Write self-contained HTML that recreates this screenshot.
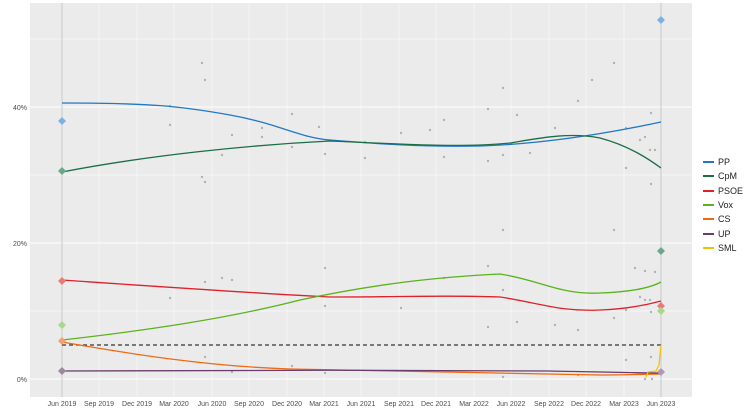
<!DOCTYPE html>
<html><head><meta charset="utf-8"><style>
body{margin:0;background:#fff;}
svg{display:block;font-family:"Liberation Sans",sans-serif;}
</style></head><body>
<svg width="750" height="417" viewBox="0 0 750 417">
<rect x="0" y="0" width="750" height="417" fill="#fff"/>
<rect x="30" y="3" width="662" height="394" fill="#ebebeb"/>
<g stroke="#fff" stroke-width="0.5">
<line x1="30" x2="692" y1="311" y2="311"/><line x1="30" x2="692" y1="175" y2="175"/><line x1="30" x2="692" y1="39" y2="39"/>
</g>
<g stroke="#fff" stroke-width="1">
<line x1="30" x2="692" y1="379" y2="379"/><line x1="30" x2="692" y1="243" y2="243"/><line x1="30" x2="692" y1="107" y2="107"/>
</g>
<g stroke="#f6f6f6" stroke-width="1">
<line x1="99" x2="99" y1="3" y2="397"/><line x1="137" x2="137" y1="3" y2="397"/><line x1="174" x2="174" y1="3" y2="397"/><line x1="212" x2="212" y1="3" y2="397"/><line x1="249" x2="249" y1="3" y2="397"/><line x1="287" x2="287" y1="3" y2="397"/><line x1="324" x2="324" y1="3" y2="397"/><line x1="361" x2="361" y1="3" y2="397"/><line x1="399" x2="399" y1="3" y2="397"/><line x1="436" x2="436" y1="3" y2="397"/><line x1="474" x2="474" y1="3" y2="397"/><line x1="511" x2="511" y1="3" y2="397"/><line x1="549" x2="549" y1="3" y2="397"/><line x1="586" x2="586" y1="3" y2="397"/><line x1="624" x2="624" y1="3" y2="397"/>
</g>
<line x1="62" x2="62" y1="3" y2="397" stroke="#c8c8c8"/>
<line x1="661" x2="661" y1="3" y2="397" stroke="#c8c8c8"/>
<g fill="#999" opacity="0.7">
<circle cx="170" cy="106" r="1.2"/><circle cx="170" cy="125" r="1.2"/><circle cx="202" cy="63" r="1.2"/><circle cx="205" cy="80" r="1.2"/><circle cx="202" cy="177" r="1.2"/><circle cx="205" cy="182" r="1.2"/><circle cx="222" cy="155" r="1.2"/><circle cx="232" cy="135" r="1.2"/><circle cx="262" cy="128" r="1.2"/><circle cx="262" cy="137" r="1.2"/><circle cx="292" cy="114" r="1.2"/><circle cx="292" cy="147" r="1.2"/><circle cx="319" cy="127" r="1.2"/><circle cx="325" cy="154" r="1.2"/><circle cx="365" cy="142" r="1.2"/><circle cx="365" cy="158" r="1.2"/><circle cx="401" cy="133" r="1.2"/><circle cx="430" cy="130" r="1.2"/><circle cx="444" cy="120" r="1.2"/><circle cx="444" cy="157" r="1.2"/><circle cx="488" cy="109" r="1.2"/><circle cx="488" cy="161" r="1.2"/><circle cx="503" cy="88" r="1.2"/><circle cx="503" cy="155" r="1.2"/><circle cx="517" cy="115" r="1.2"/><circle cx="530" cy="153" r="1.2"/><circle cx="555" cy="128" r="1.2"/><circle cx="578" cy="101" r="1.2"/><circle cx="592" cy="80" r="1.2"/><circle cx="614" cy="63" r="1.2"/><circle cx="626" cy="128" r="1.2"/><circle cx="626" cy="168" r="1.2"/><circle cx="651" cy="113" r="1.2"/><circle cx="651" cy="184" r="1.2"/><circle cx="640" cy="140" r="1.2"/><circle cx="645" cy="137" r="1.2"/><circle cx="650" cy="150" r="1.2"/><circle cx="655" cy="150" r="1.2"/><circle cx="503" cy="230" r="1.2"/><circle cx="614" cy="230" r="1.2"/><circle cx="170" cy="298" r="1.2"/><circle cx="205" cy="282" r="1.2"/><circle cx="222" cy="278" r="1.2"/><circle cx="232" cy="280" r="1.2"/><circle cx="325" cy="268" r="1.2"/><circle cx="325" cy="306" r="1.2"/><circle cx="401" cy="308" r="1.2"/><circle cx="444" cy="278" r="1.2"/><circle cx="488" cy="266" r="1.2"/><circle cx="488" cy="327" r="1.2"/><circle cx="503" cy="290" r="1.2"/><circle cx="517" cy="322" r="1.2"/><circle cx="555" cy="325" r="1.2"/><circle cx="578" cy="330" r="1.2"/><circle cx="614" cy="318" r="1.2"/><circle cx="626" cy="310" r="1.2"/><circle cx="651" cy="312" r="1.2"/><circle cx="640" cy="297" r="1.2"/><circle cx="645" cy="300" r="1.2"/><circle cx="650" cy="300" r="1.2"/><circle cx="635" cy="268" r="1.2"/><circle cx="645" cy="271" r="1.2"/><circle cx="655" cy="272" r="1.2"/><circle cx="626" cy="360" r="1.2"/><circle cx="651" cy="357" r="1.2"/><circle cx="205" cy="357" r="1.2"/><circle cx="232" cy="372" r="1.2"/><circle cx="292" cy="366" r="1.2"/><circle cx="325" cy="373" r="1.2"/><circle cx="430" cy="371" r="1.2"/><circle cx="503" cy="377" r="1.2"/><circle cx="578" cy="375" r="1.2"/><circle cx="645" cy="379" r="1.2"/><circle cx="652" cy="379" r="1.2"/>
</g>
<line x1="62" x2="661" y1="345" y2="345" stroke="#333" stroke-width="1.3" stroke-dasharray="4,3"/>
<g fill="none" stroke-width="1.3">
<path d="M62,103 C150,103 180,106 230,115 C280,124 300,138 330,140 C380,144 420,147 480,146 C540,144 600,135 661,122" stroke="#1f78c8"/>
<path d="M62,172 C150,155 250,145 330,141 C400,144 460,148 510,143 C540,138 570,132 600,138 C630,146 650,160 661,168" stroke="#1b6e45"/>
<path d="M62,280 C150,286 250,293 330,297 C400,297 450,295 500,297 C540,303 560,312 600,310 C630,309 650,304 661,301" stroke="#e0212a"/>
<path d="M62,340 C150,330 230,318 300,300 C380,283 440,277 500,274 C540,280 560,295 600,293 C630,292 650,288 661,282" stroke="#5ab31a"/>
<path d="M62,342 C120,352 200,366 290,369 C400,372 500,374 600,375 C630,375 650,374 661,374" stroke="#f06a11"/>
<path d="M62,371 C200,370 400,370 550,371 C600,372 640,373 661,373" stroke="#6a3d6b"/>
<path d="M646,377 L648,372 L656,371 L659,365 L661,345" stroke="#f5c400"/>
</g>
<g stroke="none">
<path d="M62,117 l4,4 -4,4 -4,-4z" fill="#7ab2e8"/>
<path d="M62,167 l4,4 -4,4 -4,-4z" fill="#6aa88a"/>
<path d="M62,277 l4,4 -4,4 -4,-4z" fill="#ea7a7a"/>
<path d="M62,321 l4,4 -4,4 -4,-4z" fill="#a8d88a"/>
<path d="M62,337 l4,4 -4,4 -4,-4z" fill="#f2a070"/>
<path d="M62,367 l4,4 -4,4 -4,-4z" fill="#9a8a9a"/>
<path d="M661,16 l4,4 -4,4 -4,-4z" fill="#7ab2e8"/>
<path d="M661,247 l4,4 -4,4 -4,-4z" fill="#6aa88a"/>
<path d="M661,302 l4,4 -4,4 -4,-4z" fill="#ea7a7a"/>
<path d="M661,307 l4,4 -4,4 -4,-4z" fill="#a8d88a"/>
<path d="M661,368 l4,4 -4,4 -4,-4z" fill="#a89ab8"/>
</g>
<g font-size="7" fill="#4d4d4d" text-anchor="end">
<text x="27" y="382">0%</text><text x="27" y="246">20%</text><text x="27" y="110">40%</text>
</g>
<g font-size="7" fill="#4d4d4d" text-anchor="middle">
<text x="62" y="406">Jun 2019</text><text x="99" y="406">Sep 2019</text><text x="137" y="406">Dec 2019</text><text x="174" y="406">Mar 2020</text><text x="212" y="406">Jun 2020</text><text x="249" y="406">Sep 2020</text><text x="287" y="406">Dec 2020</text><text x="324" y="406">Mar 2021</text><text x="361" y="406">Jun 2021</text><text x="399" y="406">Sep 2021</text><text x="436" y="406">Dec 2021</text><text x="474" y="406">Mar 2022</text><text x="511" y="406">Jun 2022</text><text x="549" y="406">Sep 2022</text><text x="586" y="406">Dec 2022</text><text x="624" y="406">Mar 2023</text><text x="661" y="406">Jun 2023</text>
</g>
<g font-size="9" fill="#222" stroke-width="2">
<line x1="703" x2="714" y1="162" y2="162" stroke="#1f78c8"/><text x="718" y="165">PP</text>
<line x1="703" x2="714" y1="176" y2="176" stroke="#1b6e45"/><text x="718" y="179">CpM</text>
<line x1="703" x2="714" y1="191" y2="191" stroke="#e0212a"/><text x="718" y="194">PSOE</text>
<line x1="703" x2="714" y1="205" y2="205" stroke="#5ab31a"/><text x="718" y="208">Vox</text>
<line x1="703" x2="714" y1="219" y2="219" stroke="#f06a11"/><text x="718" y="222">CS</text>
<line x1="703" x2="714" y1="234" y2="234" stroke="#6a3d6b"/><text x="718" y="237">UP</text>
<line x1="703" x2="714" y1="248" y2="248" stroke="#f5c400"/><text x="718" y="251">SML</text>
</g>
</svg>
</body></html>
